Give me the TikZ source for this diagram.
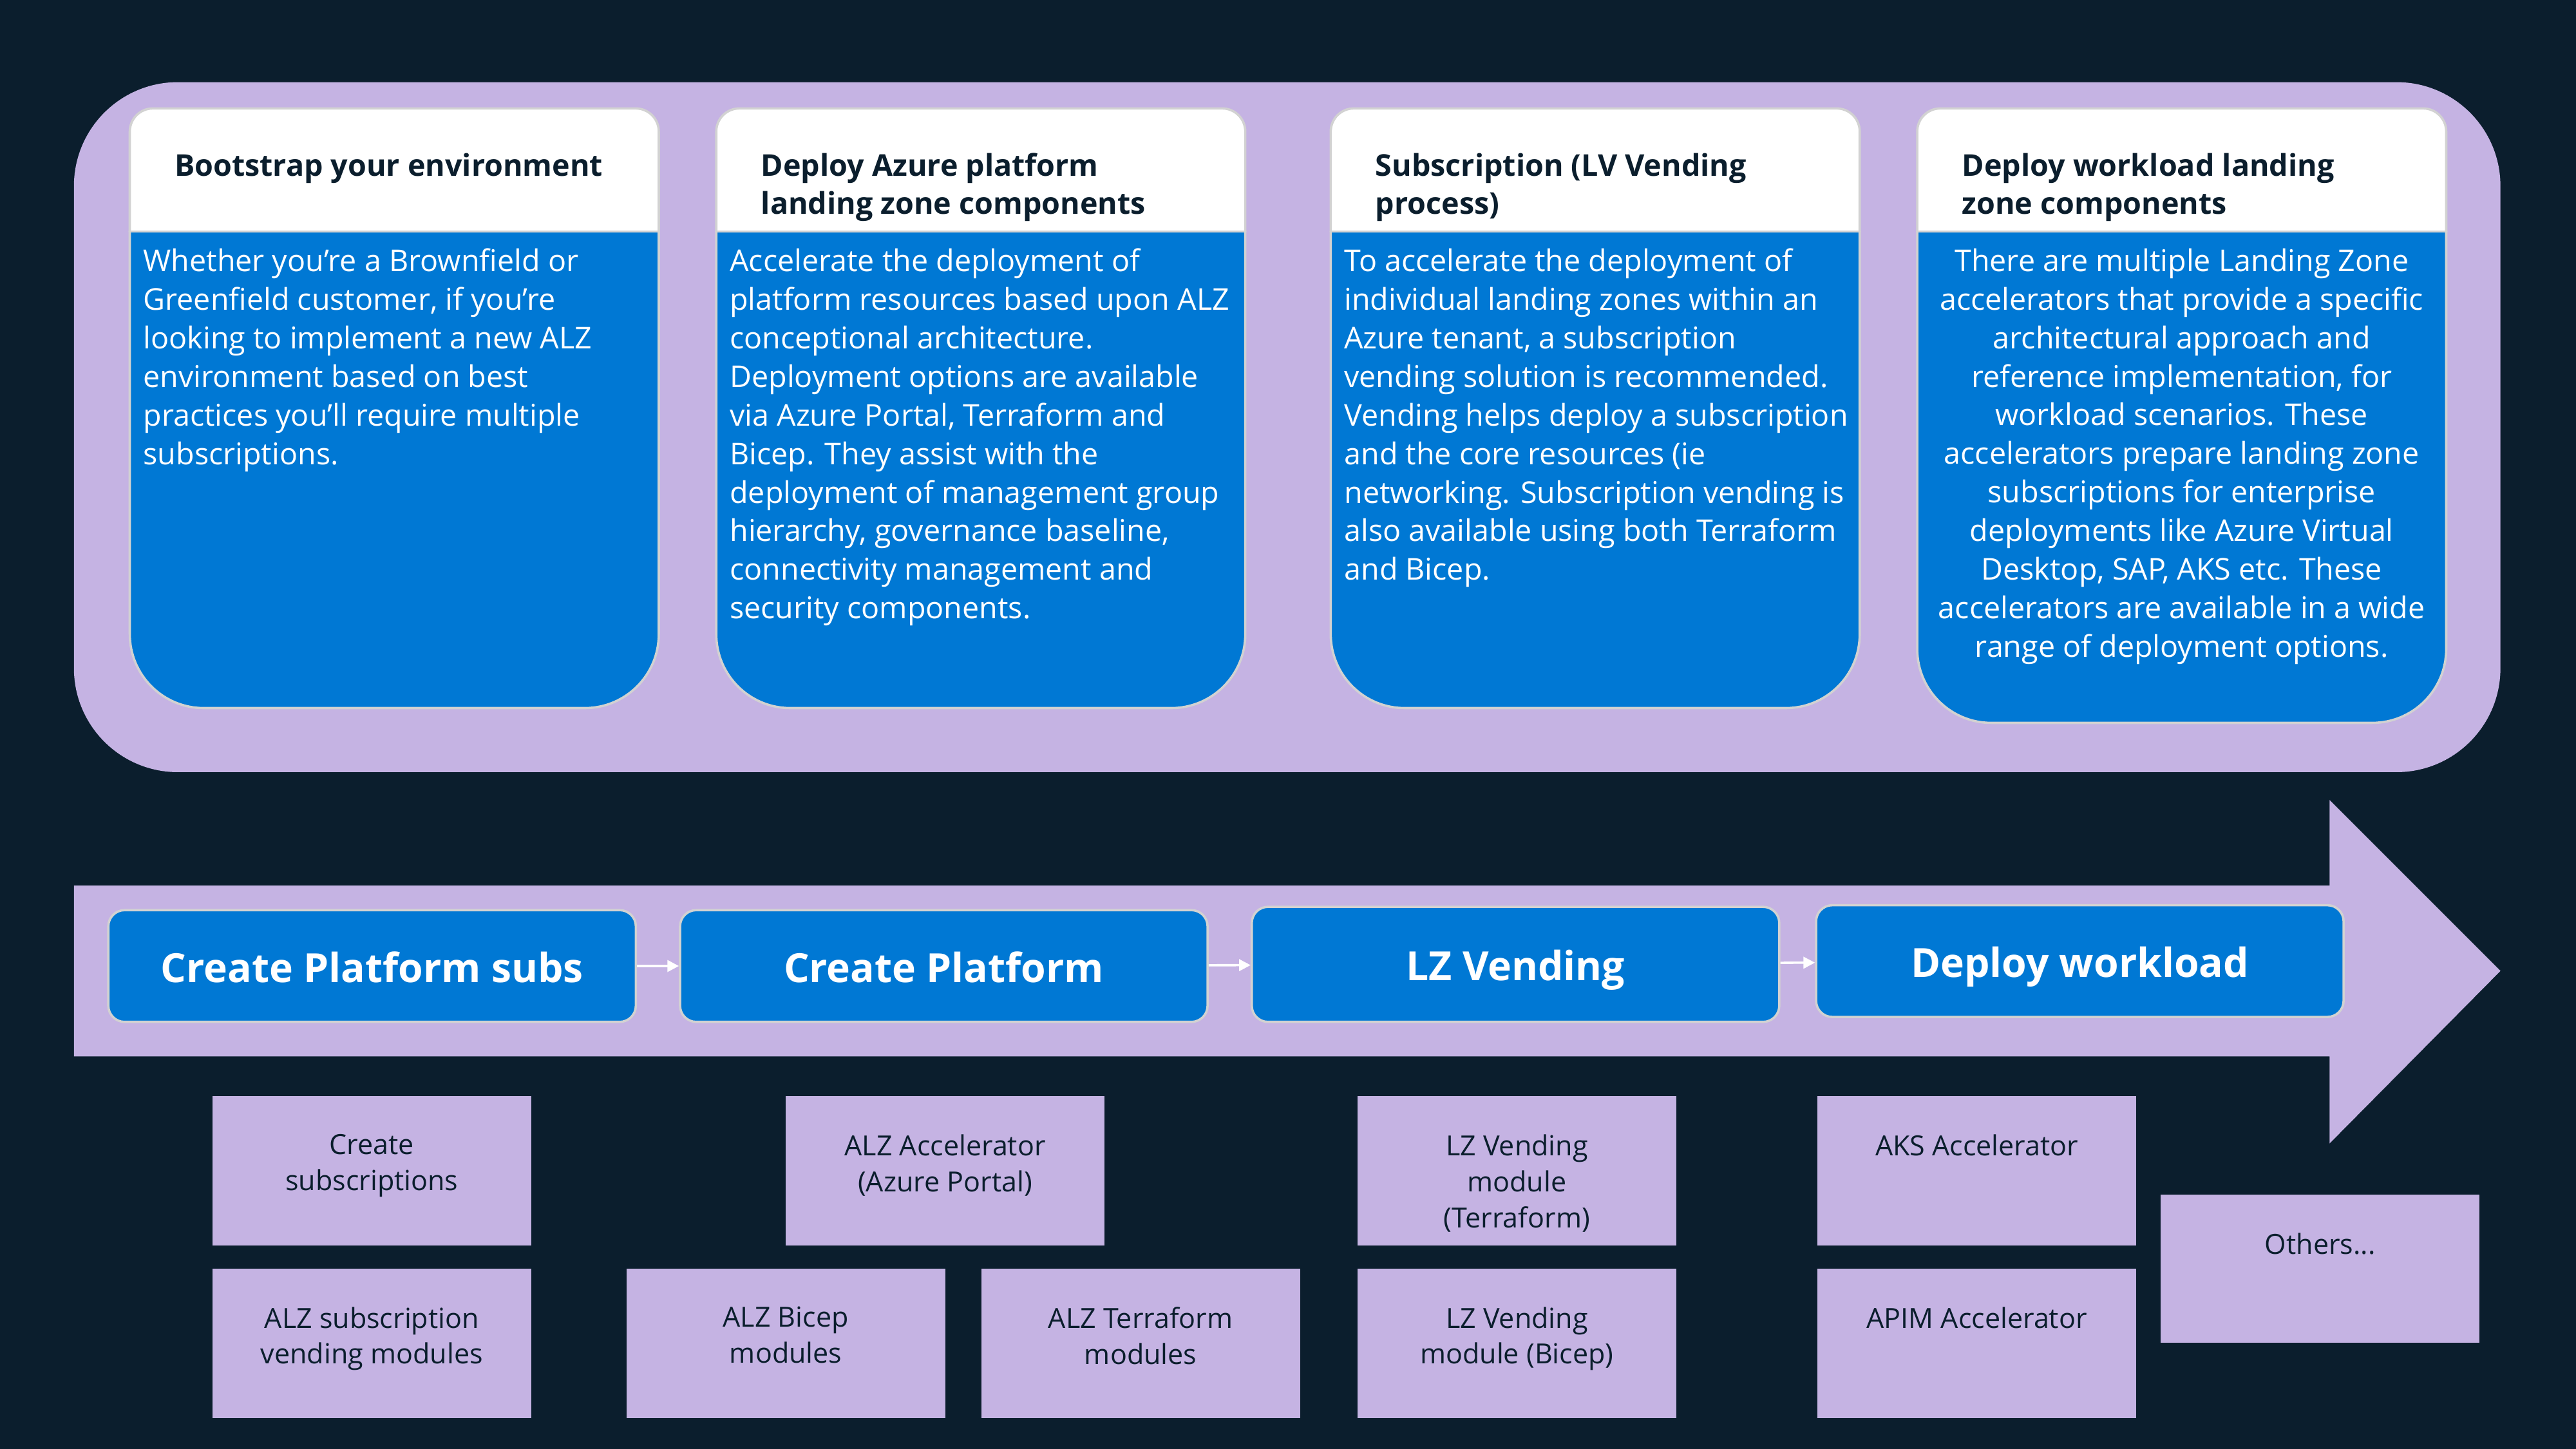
\documentclass[tikz,border=0pt]{standalone}
\usepackage{fontspec}
\setmainfont{Open Sans}
\usetikzlibrary{arrows.meta}
\definecolor{navy}{HTML}{0B1E2D}
\definecolor{lilac}{HTML}{C5B3E3}
\definecolor{azure}{HTML}{0078D4}
\definecolor{edge}{HTML}{D2D2D2}
\tikzset{
	cardhead/.style={fill=white, draw=edge, line width=1pt, rounded corners=10pt},
	cardbody/.style={fill=azure, draw=edge, line width=1pt, rounded corners=32pt},
	headtext/.style={anchor=north west, inner sep=0pt, align=left, text=navy, font=\fontsize{13}{16.4}\selectfont\bfseries},
	bodytext/.style={anchor=north west, inner sep=0pt, align=left, text=white, font=\fontsize{13}{16.7}\selectfont},
	stepbox/.style={fill=azure, draw=edge, line width=1pt, rounded corners=7pt, minimum width=8.025cm, minimum height=1.7cm, text height=14pt, text depth=0pt, text=white, font=\fontsize{17.4}{22}\selectfont\bfseries},
	steparrow/.style={draw=white, line width=1pt, -{Triangle[length=5pt,width=5pt]}},
	modbox/.style={fill=lilac, anchor=north west, minimum width=4.85cm, minimum height=2.275cm, inner sep=0pt},
	modtext/.style={anchor=north, inner sep=0pt, yshift=-16.5pt, align=center, text=navy, font=\fontsize{12}{15.6}\selectfont}
}
\begin{document}
\begin{tikzpicture}[x=0.025cm, y=-0.025cm]
	\fill[navy] (0,0) rectangle (1568,882);
	\fill[lilac, rounded corners=45pt] (45,50) rectangle (1522,470);
	\foreach \x/\b in {79/431, 436/431, 810/431, 1167/440} {
		\begin{scope}
			\clip (\x-10,50) rectangle (\x+332,141);
			\path[cardhead] (\x,66) rectangle (\x+322,200);
		\end{scope}
		\begin{scope}
			\clip (\x-10,141) rectangle (\x+332,\b+10);
			\path[cardbody] (\x,50) rectangle (\x+322,\b);
		\end{scope}
		\draw[edge, line width=1pt] (\x,141) -- (\x+322,141);
	}
	\node[headtext] (boothead) at (106,93) {Bootstrap your environment};
	\node[bodytext] (bootbody) at (87,151) {Whether you’re a Brownfield or\\Greenfield customer, if you’re\\looking to implement a new ALZ\\environment based on best\\practices you’ll require multiple\\subscriptions.};
	\node[headtext] (plathead) at (463,93) {Deploy Azure platform\\landing zone components};
	\node[bodytext] (platbody) at (444,151) {Accelerate the deployment of\\platform resources based upon ALZ\\conceptional architecture.\\Deployment options are available\\via Azure Portal, Terraform and\\Bicep. They assist with the\\deployment of management group\\hierarchy, governance baseline,\\connectivity management and\\security components.};
	\node[headtext] (vendhead) at (837,93) {Subscription (LV Vending\\process)};
	\node[bodytext] (vendbody) at (818,151) {To accelerate the deployment of\\individual landing zones within an\\Azure tenant, a subscription\\vending solution is recommended.\\Vending helps deploy a subscription\\and the core resources (ie\\networking. Subscription vending is\\also available using both Terraform\\and Bicep.};
	\node[headtext] (workhead) at (1194,93) {Deploy workload landing\\zone components};
	\node[bodytext, anchor=north, align=center] (workbody) at (1328,151) {There are multiple Landing Zone\\accelerators that provide a specific\\architectural approach and\\reference implementation, for\\workload scenarios. These\\accelerators prepare landing zone\\subscriptions for enterprise\\deployments like Azure Virtual\\Desktop, SAP, AKS etc. These\\accelerators are available in a wide\\range of deployment options.};
	\fill[lilac] (45,539) -- (1418,539) -- (1418,487) -- (1522,591) -- (1418,696) -- (1418,643) -- (45,643) -- cycle;
	\node[stepbox] (psubs) at (226.5,588) {Create Platform subs};
	\node[stepbox] (plat) at (574.5,588) {Create Platform};
	\node[stepbox, minimum height=1.75cm] (lzv) at (922.5,587) {LZ Vending};
	\node[stepbox] (work) at (1266,585) {Deploy workload};
	\draw[steparrow] (psubs) -- (plat);
	\draw[steparrow] (plat) -- (lzv);
	\draw[steparrow] (lzv) -- (work);
	\node[modbox, label={[modtext]north:{Create\\subscriptions}}] (csubs) at (129,667) {};
	\node[modbox, label={[modtext]north:{ALZ subscription\\vending modules}}] (vendmods) at (129,772) {};
	\node[modbox, label={[modtext]north:{ALZ Accelerator\\(Azure Portal)}}] (alzacc) at (478,667) {};
	\node[modbox, label={[modtext]north:{ALZ Bicep\\modules}}] (bicepmods) at (381,772) {};
	\node[modbox, label={[modtext]north:{ALZ Terraform\\modules}}] (tfmods) at (597,772) {};
	\node[modbox, label={[modtext]north:{LZ Vending\\module\\(Terraform)}}] (lztf) at (826,667) {};
	\node[modbox, label={[modtext]north:{LZ Vending\\module (Bicep)}}] (lzbicep) at (826,772) {};
	\node[modbox, label={[modtext]north:{AKS Accelerator}}] (aksacc) at (1106,667) {};
	\node[modbox, label={[modtext]north:{APIM Accelerator}}] (apimacc) at (1106,772) {};
	\node[modbox, minimum height=2.25cm, label={[modtext]north:{Others...}}] (others) at (1315,727) {};
\end{tikzpicture}
\end{document}
